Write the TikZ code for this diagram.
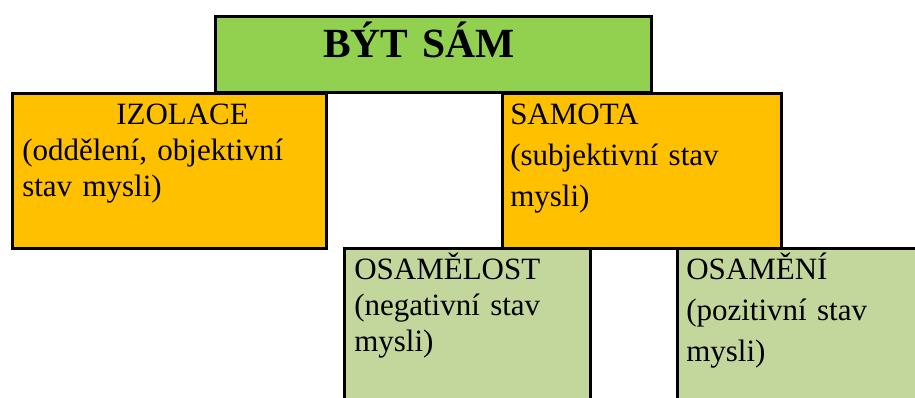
\documentclass[tikz,border=0pt]{standalone}
\usepackage{fontspec}
\setmainfont{Liberation Serif}
\usepackage{tikz}
\definecolor{topgreen}{HTML}{92D050}
\definecolor{boxorange}{HTML}{FFC000}
\definecolor{boxsage}{HTML}{C3D69B}

\begin{document}
\begin{tikzpicture}[x=1pt, y=-1pt,
	box/.style={draw, line width=2.5pt, rectangle, anchor=north west, inner ysep=0pt, align=left, text height=31pt},
	tight/.style={font=\fontsize{31}{36}\selectfont},
	loose/.style={font=\fontsize{31}{41}\selectfont}]
			\useasboundingbox (0, 0) rectangle (915, 397);
			\clip (0, 0) rectangle (915, 397);
			\node (top) [box, fill=topgreen, inner xsep=108pt, text width=220pt, text height=41pt, text depth=35pt, font=\bfseries\fontsize{41.5}{48}\selectfont] at (214, 15) {BÝT SÁM};
			\node (izolace) [box, tight, fill=boxorange, inner xsep=10pt, text width=294pt, text depth=124pt] at (11, 92) {\hspace*{94pt}IZOLACE\\(oddělení, objektivní\\stav mysli)};
			\node (samota) [box, loose, fill=boxorange, inner xsep=8pt, text width=263pt, text depth=124pt] at (501, 92) {SAMOTA\\(subjektivní stav\\mysli)};
			\node (osamelost) [box, tight, fill=boxsage, inner xsep=10pt, text width=226pt, text depth=129pt] at (343, 247) {OSAMĚLOST\\(negativní stav\\mysli)};
			\node (osameni) [box, loose, fill=boxsage, inner xsep=9pt, text width=232pt, text depth=129pt] at (676, 247) {OSAMĚNÍ\\(pozitivní stav\\mysli)};
		\end{tikzpicture}
\end{document}
